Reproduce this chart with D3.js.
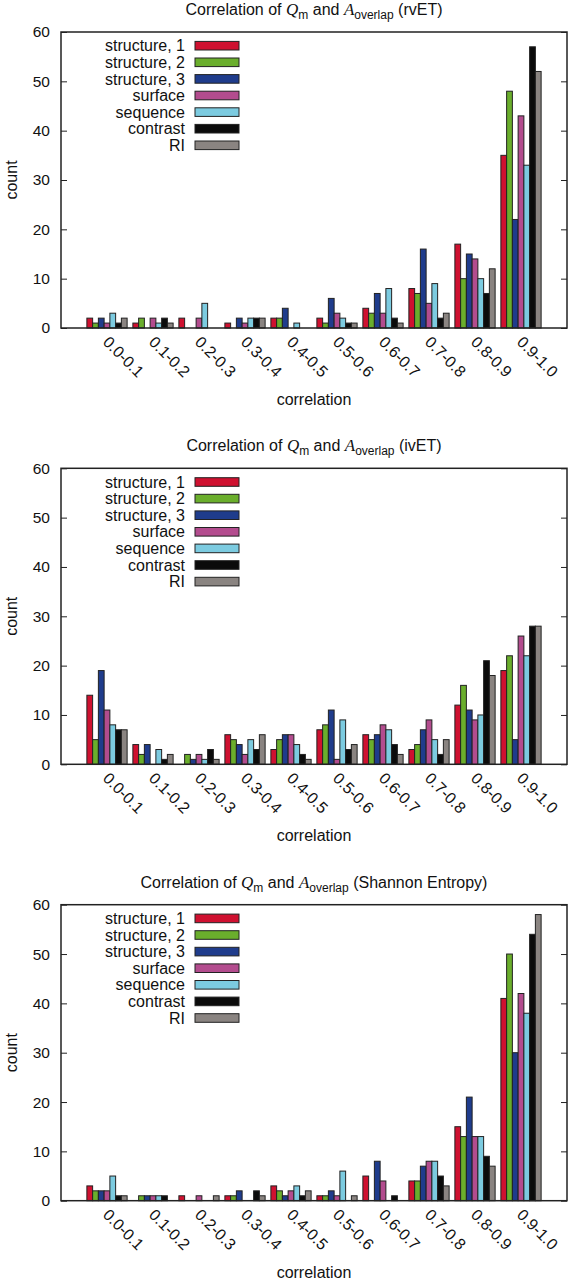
<!DOCTYPE html>
<html><head><meta charset="utf-8">
<script src="https://cdn.jsdelivr.net/npm/d3@7"></script>
<style>
html,body{margin:0;padding:0;background:#fff;}
svg{display:block;font-family:"Liberation Sans",Arial,sans-serif;}
</style></head>
<body>
<svg id="chart" width="568" height="1278"></svg>
<script>
// ---- data ----
const categories = ["0.0-0.1","0.1-0.2","0.2-0.3","0.3-0.4","0.4-0.5","0.5-0.6","0.6-0.7","0.7-0.8","0.8-0.9","0.9-1.0"];
const seriesNames = ["structure, 1","structure, 2","structure, 3","surface","sequence","contrast","RI"];
const seriesColors = ["#cf1130","#6aae2c","#1f3c8c","#b34c8e","#7ccbe0","#0b0b0b","#8a8481"];
const yTicks = [0,10,20,30,40,50,60];
const panelTitles = ["rvET","ivET","Shannon Entropy"];

// values per series (rows) across categories (columns)
const rvET = [
  [2,1,2,1,2,2,4,8,17,35],
  [1,2,0,0,2,1,3,7,10,48],
  [2,0,0,2,4,6,7,16,15,22],
  [1,2,2,1,0,3,3,5,14,43],
  [3,1,5,2,1,2,8,9,10,33],
  [1,2,0,2,0,1,2,2,7,57],
  [2,1,0,2,0,1,1,3,12,52]
];
const ivET = [
  [14,4,0,6,3,7,6,3,12,19],
  [5,2,2,5,5,8,5,4,16,22],
  [19,4,1,4,6,11,6,7,11,5],
  [11,0,2,2,6,1,8,9,9,26],
  [8,3,1,5,4,9,7,5,10,22],
  [7,1,3,3,2,3,4,2,21,28],
  [7,2,1,6,1,4,2,5,18,28]
];
const shannon = [
  [3,0,1,1,3,1,5,4,15,41],
  [2,1,0,1,2,1,0,4,13,50],
  [2,1,0,2,1,2,8,7,21,30],
  [2,1,1,0,2,1,4,8,13,42],
  [5,1,0,0,3,6,0,8,13,38],
  [1,1,0,2,1,0,1,5,9,54],
  [1,0,1,1,2,1,0,3,7,58]
];
const panels = [rvET, ivET, shannon];

// ---- layout ----
const svg = d3.select("#chart");
const left = 61, right = 567, plotH = 296;
const panelTops = [32, 468.3, 904.7];
const nS = seriesNames.length;
const barW = 1/(nS+1);
const x = d3.scaleLinear().domain([-1, categories.length]).range([left, right]);
const FS = 16;

panels.forEach((data, p) => {
  const top = panelTops[p], bottom = top + plotH;
  const y = d3.scaleLinear().domain([0,60]).range([bottom, top]);
  const g = svg.append("g");

  // title
  const t = g.append("text").attr("x", (left+right)/2).attr("y", top-17)
    .attr("text-anchor","middle").attr("font-size",FS).attr("fill","#111");
  t.append("tspan").text("Correlation of ");
  t.append("tspan").attr("font-family","Liberation Serif, serif").attr("font-style","italic").attr("font-size",17).text("Q");
  t.append("tspan").attr("font-size",12).attr("dy",4).text("m");
  t.append("tspan").attr("dy",-4).text(" and ");
  t.append("tspan").attr("font-family","Liberation Serif, serif").attr("font-style","italic").attr("font-size",17).text("A");
  t.append("tspan").attr("font-size",12).attr("dy",4).text("overlap");
  t.append("tspan").attr("dy",-4).text(" (" + panelTitles[p] + ")");

  // bars
  data.forEach((vals, s) => {
    const pts = vals.map((v,i)=>({v,i})).filter(d=>d.v>0);
    g.append("g").selectAll("rect").data(pts).join("rect")
      .attr("x", d => x(d.i - nS*barW/2 + s*barW))
      .attr("width", x(barW) - x(0))
      .attr("y", d => y(d.v))
      .attr("height", d => y(0) - y(d.v))
      .attr("fill", seriesColors[s])
      .attr("stroke", "#222").attr("stroke-width", 1);
  });

  // axes
  const la = g.append("g").attr("transform",`translate(${left},0)`)
    .call(d3.axisLeft(y).tickValues(yTicks).tickSize(-6).tickPadding(11));
  la.select(".domain").remove();
  la.selectAll("text").attr("font-size",15.5).attr("fill","#111").attr("font-family","Liberation Sans, Arial, sans-serif");
  la.selectAll("line").attr("stroke","#222");
  const ra = g.append("g").attr("transform",`translate(${right},0)`)
    .call(d3.axisRight(y).tickValues(yTicks).tickSize(-6).tickFormat(""));
  ra.select(".domain").remove();
  ra.selectAll("line").attr("stroke","#222");

  // x tick labels
  g.append("g").selectAll("text").data(categories).join("text")
    .attr("transform",(d,i)=>`translate(${x(i)-5},${bottom+15}) rotate(45)`)
    .attr("font-size",FS).attr("fill","#111").text(d=>d);

  // frame
  g.append("rect").attr("x",left).attr("y",top).attr("width",right-left).attr("height",plotH)
    .attr("fill","none").attr("stroke","#222").attr("stroke-width",1.5);

  // axis labels
  g.append("text").attr("x",(left+right)/2).attr("y",bottom+77).attr("text-anchor","middle")
    .attr("font-size",FS).attr("fill","#111").text("correlation");
  g.append("text").attr("transform",`translate(17,${(top+bottom)/2}) rotate(-90)`)
    .attr("text-anchor","middle").attr("font-size",FS).attr("fill","#111").text("count");

  // legend
  const lg = g.append("g");
  seriesNames.forEach((name, s) => {
    const cy = top + 13.7 + s*16.6;
    lg.append("text").attr("x",185).attr("y",cy).attr("dy","0.35em").attr("text-anchor","end")
      .attr("font-size",FS).attr("fill","#111").text(name);
    lg.append("rect").attr("x",195).attr("y",cy-4.3).attr("width",44).attr("height",8.6)
      .attr("fill",seriesColors[s]).attr("stroke","#222").attr("stroke-width",1);
  });
});
</script>
</body></html>
